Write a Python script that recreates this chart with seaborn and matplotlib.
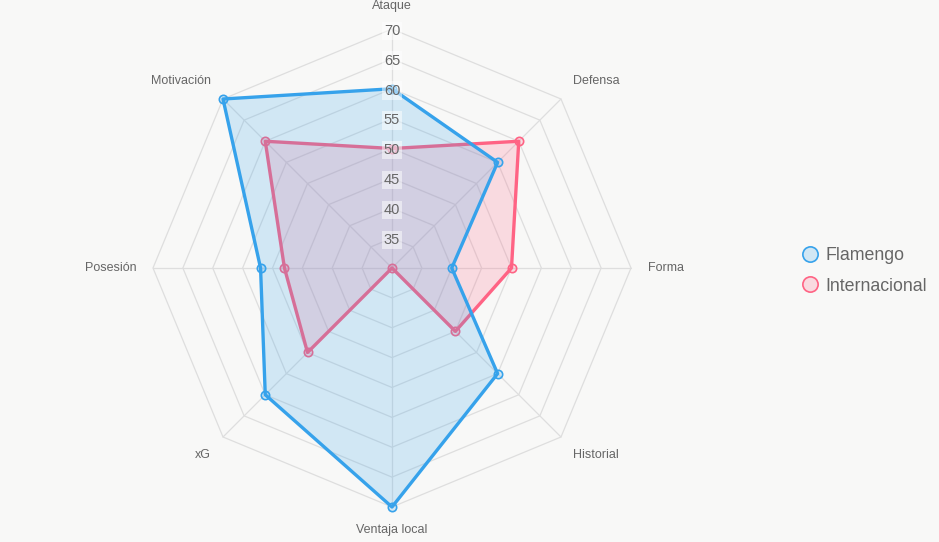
import numpy as np
import pandas as pd
import seaborn as sns
import matplotlib.pyplot as plt
from matplotlib.lines import Line2D

categories = ['Ataque', 'Defensa', 'Forma', 'Historial', 'Ventaja local', 'xG', 'Posesión', 'Motivación']
flamengo = [60, 55, 40, 55, 70, 60, 52, 70]
internacional = [50, 60, 50, 45, 30, 50, 48, 60]
ticks = [35, 40, 45, 50, 55, 60, 65, 70]
r_min, r_max = 30, 70

sns.set_theme(style='white')
plt.rcParams['font.family'] = ['Liberation Sans', 'DejaVu Sans']

bg = '#f8f8f7'
grid_c = '#dedede'
text_c = '#666666'

fig = plt.figure(figsize=(9.39, 5.42), dpi=100, facecolor=bg)
W, H = 939, 542
cx, cy, R = 392, 268, 239
ax = fig.add_axes([(cx - R) / W, (H - cy - R) / H, 2 * R / W, 2 * R / H], projection='polar')
ax.set_facecolor('none')
ax.set_theta_zero_location('N')
ax.set_theta_direction(-1)

n = len(categories)
angles = np.linspace(0, 2 * np.pi, n, endpoint=False)
closed = np.append(angles, angles[0])

# polygon grid
for t in ticks:
    ax.plot(closed, [t] * (n + 1), color=grid_c, lw=0.9, zorder=1, clip_on=False)
for a in angles:
    ax.plot([a, a], [r_min, r_max], color=grid_c, lw=0.9, zorder=1, clip_on=False)

# internacional drawn first, flamengo on top (like chart.js)
series = [('Internacional', internacional, '#FF6384', (1.0, 0.39, 0.52, 0.2)),
          ('Flamengo', flamengo, '#36A2EB', (0.21, 0.64, 0.92, 0.2))]
for i, (name, vals, col, fillc) in enumerate(series):
    z = 2 + i * 3
    v = np.append(vals, vals[0])
    df = pd.DataFrame({'theta': closed, 'r': v})
    ax.fill(closed, v, color=fillc, lw=0, zorder=z, clip_on=False)
    sns.lineplot(x=df['theta'].values, y=df['r'].values, sort=False, estimator=None, ax=ax,
                 color=col, lw=2.4, zorder=z + 1, clip_on=False)
    ax.scatter(angles, vals, s=36, facecolor=fillc, edgecolor=col, lw=1.2, zorder=z + 2, clip_on=False)

ax.set_ylim(r_min, r_max)
ax.set_xlabel('')
ax.set_ylabel('')
ax.set_xticks([])
ax.set_yticks([])
ax.grid(False)
ax.spines['polar'].set_visible(False)

# tick labels along the first spoke
for t in ticks:
    ax.text(0, t - 0.3, str(t), ha='center', va='center', fontsize=10.5, color=text_c, zorder=10,
            bbox=dict(boxstyle='square,pad=0.15', facecolor='white', edgecolor='none', alpha=0.5))

# category labels
label_r = 72.8
for a, lab in zip(angles, categories):
    deg = np.degrees(a) % 360
    if deg < 1 or deg > 359:
        ha, va = 'center', 'bottom'
    elif abs(deg - 180) < 1:
        ha, va = 'center', 'top'
    else:
        ha = 'left' if deg < 180 else 'right'
        if abs(deg - 90) < 1 or abs(deg - 270) < 1:
            va = 'center'
        elif deg < 90 or deg > 270:
            va = 'bottom'
        else:
            va = 'top'
    ax.text(a, label_r, lab, ha=ha, va=va, fontsize=9, color=text_c, clip_on=False)

handles = [Line2D([], [], marker='o', ls='', markersize=11, markerfacecolor=(0.21, 0.64, 0.92, 0.2),
                  markeredgecolor='#36A2EB', markeredgewidth=1.2, label='Flamengo'),
           Line2D([], [], marker='o', ls='', markersize=11, markerfacecolor=(1.0, 0.39, 0.52, 0.2),
                  markeredgecolor='#FF6384', markeredgewidth=1.2, label='Internacional')]
leg = fig.legend(handles=handles, loc='center left', bbox_to_anchor=(790 / W, 1 - 271 / H),
                 frameon=False, fontsize=12.8, handletextpad=0.3, labelspacing=0.75, borderpad=0,
                 handlelength=1.2)
for t in leg.get_texts():
    t.set_color(text_c)

fig.savefig('out.png', dpi=100, facecolor=bg)
